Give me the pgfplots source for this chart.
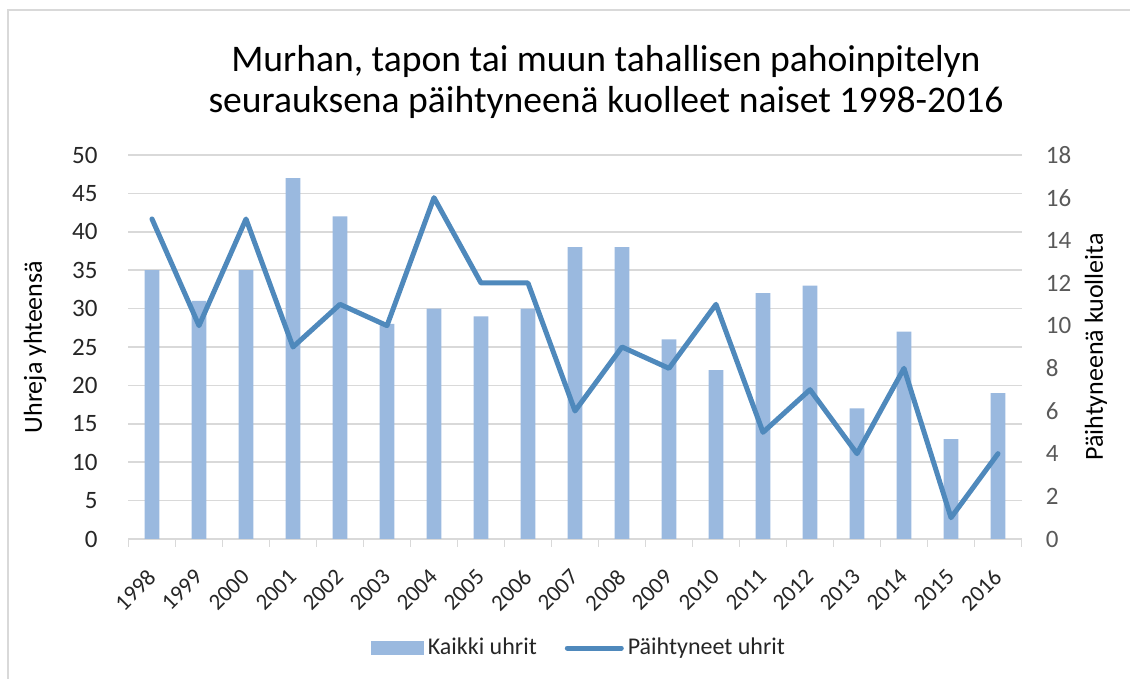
\documentclass[border=0pt]{standalone}
\usepackage{fontspec}
\setmainfont{Carlito}
\usepackage{pgfplots}
\pgfplotsset{compat=1.18}
\definecolor{barc}{HTML}{9AB9DF}
\definecolor{linec}{HTML}{4F89BC}
\definecolor{gridc}{HTML}{D9D9D9}
\definecolor{txtc}{HTML}{262626}
\definecolor{rtxt}{HTML}{595959}
\begin{document}
\begin{tikzpicture}
\path[use as bounding box] (0,0) rectangle (565pt,339.5pt);
\draw[gridc, line width=1pt] (4pt,0) -- (4pt,334.5pt) -- (565pt,334.5pt);
\begin{axis}[
  at={(64.25pt,70pt)}, anchor=south west,
  width=446.5pt, height=192pt, scale only axis,
  xmin=-0.5, xmax=18.5, ymin=0, ymax=50,
  ytick={0,5,...,50},
  xtick={0,...,18},
  xticklabels={1998,1999,2000,2001,2002,2003,2004,2005,2006,2007,2008,2009,2010,2011,2012,2013,2014,2015,2016},
  minor xtick={-0.5,0.5,...,18.5},
  major x tick style={draw=none},
  minor x tick style={draw=gridc, line width=0.75pt},
  minor tick length=4pt,
  tick align=outside,
  ymajorgrids, grid style={gridc, line width=0.75pt},
  axis x line*=bottom, axis y line*=left,
  y axis line style={draw=none},
  x axis line style={draw=gridc, line width=0.75pt, -},
  ytick style={draw=none},
  /pgf/number format/assume math mode=true,
  yticklabel style={font=\fontsize{12.5}{14}\selectfont, text=txtc, inner sep=0pt, anchor=east, xshift=-11pt},
  xticklabel style={font=\fontsize{11.5}{14}\selectfont, text=txtc, inner sep=0pt, yshift=-10pt, xshift=-3pt, rotate=45, anchor=north east},
]
\addplot[ybar, bar shift=0pt, bar width=0.31, fill=barc, draw=none] coordinates {
(0,35) (1,31) (2,35) (3,47) (4,42) (5,28) (6,30) (7,29) (8,30) (9,38)
(10,38) (11,26) (12,22) (13,32) (14,33) (15,17) (16,27) (17,13) (18,19)};
\end{axis}
\begin{axis}[
  at={(64.25pt,70pt)}, anchor=south west,
  width=446.5pt, height=192pt, scale only axis,
  xmin=-0.5, xmax=18.5, ymin=0, ymax=18,
  ytick={0,2,...,18},
  axis y line*=right, axis x line=none,
  y axis line style={draw=none}, ytick style={draw=none},
  /pgf/number format/assume math mode=true,
  yticklabel style={font=\fontsize{12.5}{14}\selectfont, text=rtxt, inner sep=0pt, anchor=west, xshift=12pt},
  legend style={at={(0.5056,-0.284)}, anchor=center, draw=none, fill=none,
    font=\fontsize{12}{14}\selectfont, text=txtc,
    /tikz/every even column/.append style={column sep=12pt}},
  legend columns=2, legend cell align=left,
]
\addlegendimage{legend image code/.code={\fill[barc] (0pt,-3.25pt) rectangle (26pt,3.25pt);}}
\addlegendentry{Kaikki uhrit}
\addplot[linec, line width=2.5pt, line join=round, line cap=round,
  legend image code/.code={\draw[linec, line width=2.5pt, line cap=round] (0pt,0pt) -- (27pt,0pt);}] coordinates {
(0,15) (1,10) (2,15) (3,9) (4,11) (5,10) (6,16) (7,12) (8,12) (9,6)
(10,9) (11,8) (12,11) (13,5) (14,7) (15,4) (16,8) (17,1) (18,4)};
\addlegendentry{Päihtyneet uhrit}
\end{axis}
\node[anchor=base, font=\fontsize{18.8}{22}\selectfont, text=black] at (303pt,303.5pt) {Murhan, tapon tai muun tahallisen pahoinpitelyn};
\node[anchor=base, font=\fontsize{18.8}{22}\selectfont, text=black] at (303pt,283pt) {seurauksena päihtyneenä kuolleet naiset 1998-2016};
\node[rotate=90, font=\fontsize{13}{15}\selectfont, text=black] at (17.5pt,166pt) {Uhreja yhteensä};
\node[rotate=90, font=\fontsize{13}{15}\selectfont, text=black] at (548pt,166pt) {Päihtyneenä kuolleita};
\end{tikzpicture}
\end{document}
